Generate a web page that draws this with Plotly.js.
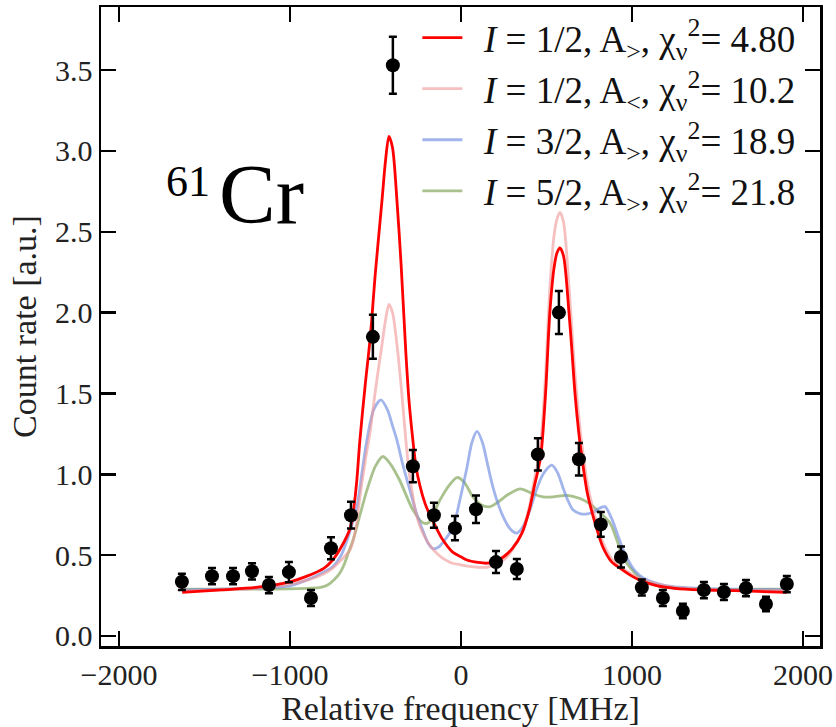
<!DOCTYPE html>
<html>
<head>
<meta charset="utf-8">
<script src="https://cdn.plot.ly/plotly-3.0.1.min.js"></script>
<style>html,body{margin:0;padding:0;background:#fff;}#plot{width:836px;height:727px;}</style>
</head>
<body>
<div id="plot"></div>
<script>
// ---- measured data points ----
var dataX = [-1632,-1456,-1333,-1222,-1123,-1006,-877,-760,-643,-515,-398,-281,-158,-35,88,205,327,450,573,690,818,936,1058,1181,1298,1421,1538,1667,1784,1906];
var dataY = [0.335,0.37,0.37,0.40,0.315,0.395,0.235,0.543,0.747,1.85,3.53,1.05,0.747,0.667,0.784,0.457,0.414,1.123,2.0,1.093,0.69,0.488,0.30,0.235,0.154,0.284,0.272,0.296,0.198,0.321];
var dataErr = [0.05,0.05,0.05,0.05,0.05,0.062,0.05,0.068,0.083,0.136,0.176,0.10,0.077,0.075,0.085,0.068,0.062,0.10,0.133,0.10,0.077,0.065,0.05,0.05,0.045,0.05,0.05,0.05,0.045,0.05];

// ---- fit curves ----
var redX = [-1630,-1400,-1200,-1000,-900,-800,-750,-700,-650,-632,-610,-591,-560,-530,-500,-462,-440,-421,-400,-374,-350,-322,-304,-285,-263,-240,-210,-181,-140,-105,-50,0,35,100,152,200,250,300,357,400,430,450,468,495,520,545,562,579,600,632,650,667,690,708,740,784,830,880,930,1000,1047,1150,1250,1400,1600,1906];
var redY = [0.27,0.285,0.30,0.335,0.37,0.42,0.47,0.55,0.66,0.75,0.95,1.21,1.55,1.85,2.25,2.69,2.95,3.09,3.02,2.69,2.3,1.75,1.46,1.25,1.05,0.93,0.82,0.747,0.66,0.593,0.52,0.49,0.47,0.455,0.45,0.46,0.49,0.54,0.636,0.78,0.93,1.02,1.12,1.5,2.0,2.28,2.37,2.40,2.35,2.0,1.75,1.5,1.25,1.1,0.88,0.70,0.55,0.46,0.42,0.37,0.345,0.31,0.295,0.285,0.28,0.27];

var pinkX = [-1630,-1400,-1200,-1000,-900,-800,-750,-700,-650,-632,-610,-591,-560,-530,-500,-462,-440,-421,-400,-374,-350,-322,-304,-285,-263,-240,-210,-181,-140,-105,-50,0,50,100,152,200,250,300,357,400,430,450,468,495,520,545,562,579,600,632,650,667,690,708,740,784,830,880,930,1000,1047,1150,1250,1400,1600,1906];
var pinkY = [0.28,0.285,0.295,0.32,0.345,0.385,0.42,0.47,0.53,0.58,0.70,0.86,1.08,1.27,1.52,1.80,1.96,2.05,2.0,1.80,1.55,1.21,1.02,0.89,0.76,0.68,0.61,0.56,0.51,0.48,0.45,0.44,0.43,0.425,0.425,0.44,0.47,0.53,0.64,0.80,0.97,1.07,1.2,1.62,2.15,2.48,2.58,2.62,2.56,2.16,1.88,1.62,1.35,1.18,0.94,0.74,0.58,0.48,0.43,0.38,0.355,0.32,0.30,0.29,0.285,0.28];

var blueX = [-1630,-1400,-1200,-1000,-941,-850,-749,-700,-667,-640,-608,-580,-550,-510,-468,-430,-400,-374,-340,-298,-260,-222,-190,-164,-130,-90,-47,0,35,65,94,125,152,180,210,246,290,327,365,404,440,470,500,532,565,596,625,655,700,740,772,810,842,880,912,950,988,1020,1064,1130,1205,1300,1398,1600,1906];
var blueY = [0.285,0.29,0.295,0.31,0.33,0.37,0.43,0.50,0.59,0.68,0.80,1.0,1.21,1.40,1.46,1.40,1.30,1.21,1.06,0.90,0.76,0.65,0.57,0.54,0.55,0.60,0.67,0.87,1.04,1.2,1.265,1.20,1.08,0.95,0.84,0.74,0.66,0.636,0.68,0.78,0.90,0.98,1.03,1.056,1.01,0.92,0.84,0.78,0.755,0.755,0.765,0.79,0.80,0.73,0.64,0.53,0.45,0.40,0.36,0.33,0.31,0.30,0.295,0.29,0.285];

var greenX = [-1630,-1200,-900,-820,-780,-740,-708,-680,-660,-632,-590,-550,-500,-456,-410,-357,-281,-222,-190,-123,-70,-23,20,70,120,170,220,269,345,421,480,538,620,696,750,795,871,910,947,1000,1047,1120,1205,1400,1906];
var greenY = [0.29,0.29,0.295,0.30,0.315,0.35,0.39,0.45,0.51,0.59,0.75,0.90,1.05,1.11,1.06,0.96,0.78,0.70,0.70,0.84,0.93,0.98,0.95,0.86,0.81,0.80,0.83,0.87,0.91,0.88,0.86,0.86,0.87,0.85,0.82,0.78,0.70,0.60,0.49,0.41,0.36,0.32,0.30,0.29,0.29];

// ---- labels ----
var legendNames = [
  '&nbsp;\u2009<i>I</i> = 1/2, A<sub>&gt;</sub>, χ<sub>ν</sub><sup>2</sup>= 4.80',
  '&nbsp;\u2009<i>I</i> = 1/2, A<sub>&lt;</sub>, χ<sub>ν</sub><sup>2</sup>= 10.2',
  '&nbsp;\u2009<i>I</i> = 3/2, A<sub>&gt;</sub>, χ<sub>ν</sub><sup>2</sup>= 18.9',
  '&nbsp;\u2009<i>I</i> = 5/2, A<sub>&gt;</sub>, χ<sub>ν</sub><sup>2</sup>= 21.8'
];
var xTicks = [-2000,-1000,0,1000,2000];
var yTicks = [0,0.5,1,1.5,2,2.5,3,3.5];

var FONT = 'Liberation Serif, Times New Roman, serif';
function curve(x, y, color, name, group) {
  return {x: x, y: y, type: 'scatter', mode: 'lines', name: name, legendgroup: group,
    line: {color: color, width: 2.8, shape: 'spline', smoothing: 0.8}, hoverinfo: 'skip'};
}
var traces = [
  curve(greenX, greenY, 'rgba(122,160,80,0.65)', legendNames[3], 'g4'),
  curve(blueX, blueY, 'rgba(110,140,225,0.65)', legendNames[2], 'g3'),
  curve(pinkX, pinkY, 'rgba(240,150,150,0.6)', legendNames[1], 'g2'),
  curve(redX, redY, '#ff0000', legendNames[0], 'g1'),
  {x: dataX, y: dataY, type: 'scatter', mode: 'markers', showlegend: false,
   marker: {color: '#000', size: 14},
   error_y: {type: 'data', array: dataErr, visible: true, color: '#000', thickness: 2.5, width: 4}}
];

var axisCommon = {showgrid: false, zeroline: false, showline: true, linecolor: '#000', linewidth: 2.5,
  mirror: 'allticks', ticks: 'inside', ticklen: 15, tickwidth: 2.5, tickcolor: '#000',
  tickfont: {family: FONT, size: 30, color: '#222'}};

var layout = {
  width: 836, height: 727,
  margin: {l: 101, r: 16, t: 7, b: 81},
  paper_bgcolor: '#fff', plot_bgcolor: '#fff',
  font: {family: FONT, color: '#111'},
  showlegend: true,
  legend: {x: 0.44, y: 1.0, xanchor: 'left', yanchor: 'top', traceorder: 'reversed',
    font: {family: FONT, size: 37, color: '#111'}, bgcolor: 'rgba(255,255,255,0)',
    tracegroupgap: 0, itemwidth: 40},
  xaxis: Object.assign({}, axisCommon, {range: [-2105, 2100], tickvals: xTicks,
    title: {text: 'Relative frequency [MHz]', font: {family: FONT, size: 34, color: '#222'}, standoff: 2}}),
  yaxis: Object.assign({}, axisCommon, {range: [-0.062, 3.89], tickvals: yTicks, tickformat: '.1f',
    title: {text: 'Count rate [a.u.]', font: {family: FONT, size: 34, color: '#222'}, standoff: 8}}),
  annotations: [
    {xref: 'paper', yref: 'paper', x: (164 - 101) / 719, y: (646 - 181) / 639, xanchor: 'left', yanchor: 'middle',
     text: '61', showarrow: false, font: {family: FONT, size: 44, color: '#000'}},
    {xref: 'paper', yref: 'paper', x: (217 - 101) / 719, y: (646 - 194) / 639, xanchor: 'left', yanchor: 'middle',
     text: 'Cr', showarrow: false, font: {family: FONT, size: 85, color: '#000'}}
  ]
};
Plotly.newPlot('plot', traces, layout, {displayModeBar: false, staticPlot: true});
</script>
</body>
</html>
